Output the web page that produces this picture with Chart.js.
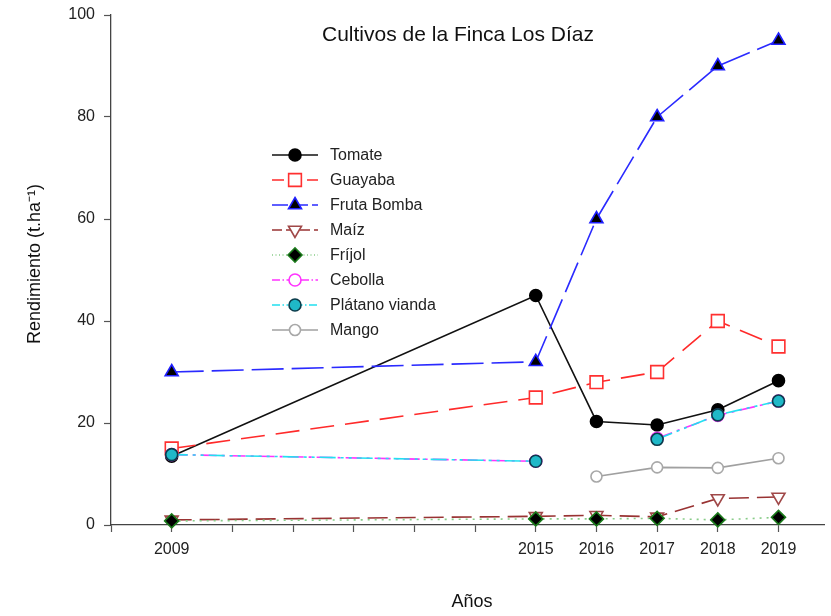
<!DOCTYPE html>
<html>
<head>
<meta charset="utf-8">
<script src="https://cdn.jsdelivr.net/npm/chart.js@4"></script>
<style>
  html, body { margin: 0; padding: 0; background: #fff; }
  #wrap { width: 831px; height: 616px; position: relative; }
</style>
</head>
<body>
<div id="wrap"><canvas id="Chart" width="831" height="616"></canvas></div>
<script>
// years and yields (null = no data)
var years = [2009, 2015, 2016, 2017, 2018, 2019];
var labeledYears = [2009, 2015, 2016, 2017, 2018, 2019];

var tomate   = [13.5, 45, 20.3, 19.6, 22.6, 28.3];
var guayaba  = [15, 25, 28, 30, 40, 35];
var frutaBomba = [30, 32, 60, 80, 90, 95];
var maiz     = [1.0, 1.7, 1.9, 1.6, 5.2, 5.5];
var frijol   = [0.8, 1.2, 1.2, 1.3, 1.0, 1.5];
var cebolla  = [13.8, 12.5, null, 17, 21.5, 24.3];
var platano  = [13.8, 12.5, null, 16.8, 21.6, 24.3];
var mango    = [null, null, 9.5, 11.3, 11.2, 13.1];

var yTicks = [0, 20, 40, 60, 80, 100];

function pts(arr) {
	var out = [];
	for (var i = 0; i < years.length; i++) {
		out.push({ x: years[i], y: arr[i] });
	}
	return out;
}

var series = [
	{ label: 'Tomate', data: tomate, line: '#111111', dash: [], style: 'circle', rot: 0, bg: '#000000', bd: '#000000', r: 6 },
	{ label: 'Guayaba', data: guayaba, line: '#ff2a2a', dash: [24, 11], style: 'rect', rot: 0, bg: '#ffffff', bd: '#ff3030', r: 9 },
	{ label: 'Fruta Bomba', data: frutaBomba, line: '#2a2aff', dash: [32, 8], style: 'triangle', rot: 0, bg: '#000000', bd: '#2020ff', r: 7.5 },
	{ label: 'Maíz', data: maiz, line: '#993333', dash: [20, 8], style: 'triangle', rot: 180, bg: '#ffffff', bd: '#a04848', r: 7.5 },
	{ label: 'Fríjol', data: frijol, line: '#88cc88', dash: [2, 5], style: 'rectRot', rot: 0, bg: '#000000', bd: '#1a7a1a', r: 7 },
	{ label: 'Cebolla', data: cebolla, line: '#ff33ff', dash: [16, 5, 3, 5], style: 'circle', rot: 0, bg: '#ffffff', bd: '#ff33ff', r: 6 },
	{ label: 'Plátano vianda', data: platano, line: '#22e0f0', dash: [16, 5, 3, 5, 3, 5], style: 'circle', rot: 0, bg: '#1fb8c8', bd: '#0b3b4a', r: 6 },
	{ label: 'Mango', data: mango, line: '#a0a0a0', dash: [], style: 'circle', rot: 0, bg: '#ffffff', bd: '#a8a8a8', r: 5.5 }
];

var datasets = series.map(function(s, i) {
	return {
		label: s.label,
		data: pts(s.data),
		borderColor: s.line,
		borderWidth: 1.6,
		borderDash: s.dash,
		spanGaps: false,
		fill: false,
		tension: 0,
		clip: false,
		pointStyle: s.style,
		rotation: s.rot,
		pointRadius: s.r,
		pointBackgroundColor: s.bg,
		pointBorderColor: s.bd,
		pointBorderWidth: 1.6,
		order: series.length - i
	};
});

var FONT = '"Liberation Sans", Arial, sans-serif';

var textPlugin = {
	id: 'texts',
	afterDraw: function(chart) {
		var ctx = chart.ctx;
		ctx.save();
		ctx.fillStyle = '#111';
		ctx.textAlign = 'center';
		ctx.textBaseline = 'middle';
		ctx.font = '21px ' + FONT;
		ctx.fillText('Cultivos de la Finca Los Díaz', 458, 35);

		ctx.font = '18px ' + FONT;
		ctx.fillText('Años', 472, 602);

		ctx.save();
		ctx.translate(35, 264);
		ctx.rotate(-Math.PI / 2);
		ctx.fillText('Rendimiento (t.ha⁻¹)', 0, 0);
		ctx.restore();

		// legend
		var x0 = 272, x1 = 318, tx = 330, y = 155;
		ctx.textAlign = 'left';
		ctx.font = '16px ' + FONT;
		series.forEach(function(s) {
			ctx.save();
			ctx.strokeStyle = s.line;
			ctx.lineWidth = 1.6;
			ctx.setLineDash(s.dash.length ? s.dash.map(function(d) { return d * 0.5; }) : []);
			ctx.beginPath();
			ctx.moveTo(x0, y);
			ctx.lineTo(x1, y);
			ctx.stroke();
			ctx.setLineDash([]);
			ctx.fillStyle = s.bg;
			ctx.strokeStyle = s.bd;
			Chart.helpers.drawPoint(ctx, { pointStyle: s.style, rotation: s.rot, radius: s.r, borderWidth: 1.6 }, (x0 + x1) / 2, y);
			ctx.restore();
			ctx.fillStyle = '#222';
			ctx.fillText(s.label, tx, y + 1);
			y += 25;
		});
		ctx.restore();
	}
};

var ctx = document.getElementById('Chart').getContext('2d');
var chart = new Chart(ctx, {
	type: 'line',
	data: { datasets: datasets },
	options: {
		responsive: false,
		animation: false,
		layout: { autoPadding: false, padding: { top: 15, right: 7, left: 0, bottom: 0 } },
		plugins: {
			legend: { display: false },
			tooltip: { enabled: false },
			title: { display: false }
		},
		scales: {
			x: {
				type: 'linear',
				min: 2008,
				max: 2019.75,
				afterFit: function(scale) { scale.height = 91; scale.paddingRight = 0; scale.paddingLeft = 0; },
				afterBuildTicks: function(scale) {
					var t = [];
					for (var yr = 2008; yr <= 2019; yr++) t.push({ value: yr });
					scale.ticks = t;
				},
				ticks: {
					autoSkip: false,
					maxRotation: 0,
					padding: 8,
					color: '#222',
					font: { size: 16, family: FONT },
					callback: function(v) { return labeledYears.indexOf(v) >= 0 ? String(v) : ''; }
				},
				grid: { drawOnChartArea: false, drawTicks: true, tickLength: 7, color: '#555', tickWidth: 1.2 },
				border: { display: true, color: '#444', width: 1.3 }
			},
			y: {
				min: 0,
				max: 100,
				afterFit: function(scale) { scale.width = 111; scale.paddingTop = 0; scale.paddingBottom = 0; },
				afterBuildTicks: function(scale) {
					scale.ticks = yTicks.map(function(v) { return { value: v }; });
				},
				ticks: {
					padding: 9,
					color: '#222',
					font: { size: 16, family: FONT }
				},
				grid: { drawOnChartArea: false, drawTicks: true, tickLength: 7, color: '#555', tickWidth: 1.2 },
				border: { display: true, color: '#444', width: 1.3 }
			}
		}
	},
	plugins: [textPlugin]
});
</script>
</body>
</html>
